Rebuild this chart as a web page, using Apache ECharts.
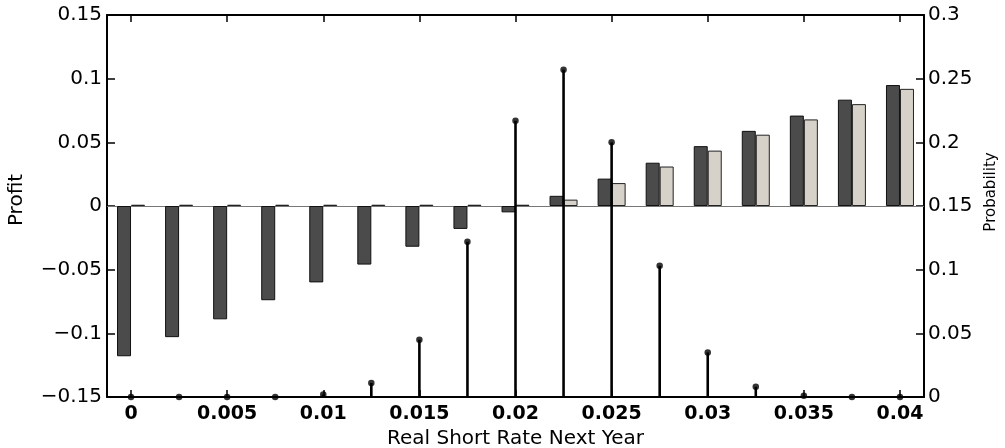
<!DOCTYPE html>
<html>
<head>
<meta charset="utf-8">
<script src="https://cdn.jsdelivr.net/npm/echarts@6/dist/echarts.min.js"></script>
<style>
html,body{margin:0;padding:0;background:#fff;overflow:hidden;}
#c{width:1005px;height:448px;}
</style>
</head>
<body>
<div id="c"></div>
<script>
// Data
const categories = ['0','0.0025','0.005','0.0075','0.01','0.0125','0.015','0.0175','0.02','0.0225','0.025','0.0275','0.03','0.0325','0.035','0.0375','0.04'];
const profitDark  = [-0.118,-0.103,-0.089,-0.074,-0.060,-0.046,-0.032,-0.018,-0.005,0.008,0.0215,0.034,0.047,0.059,0.071,0.0835,0.095];
const profitLight = [0.001,0.001,0.001,0.001,0.001,0.001,0.001,0.001,0.001,0.005,0.018,0.031,0.0435,0.056,0.068,0.080,0.092];
const probability = [0,0,0,0,0.002,0.011,0.045,0.122,0.217,0.257,0.200,0.103,0.035,0.008,0.001,0,0];
const profitTicks = ['\u22120.15','\u22120.1','\u22120.05','0','0.05','0.1','0.15'];
const probTicks = ['0','0.05','0.1','0.15','0.2','0.25','0.3'];

const FONT = 'DejaVu Sans';
const el = document.getElementById('c');
const chart = echarts.init(el);
const baseX = {
  type: 'category',
  data: categories,
  boundaryGap: true,
  axisLine: {show: true, onZero: false, lineStyle: {color: '#000', width: 2}},
  axisTick: {show: true, inside: true, alignWithLabel: true, interval: 1, length: 7, lineStyle: {color: '#000', width: 1.5}},
  splitLine: {show: false}
};
chart.setOption({
  animation: false,
  backgroundColor: '#fff',
  grid: {left: 107, top: 15, width: 817, height: 382, containLabel: false, outerBoundsMode: 'none'},
  xAxis: [
    Object.assign({}, baseX, {
      position: 'bottom',
      name: 'Real Short Rate Next Year',
      nameLocation: 'middle',
      nameGap: 28,
      nameTextStyle: {fontFamily: FONT, fontSize: 20, color: '#000'},
      axisLabel: {interval: 1, margin: 8, fontFamily: FONT, fontWeight: 'bold', fontSize: 19, color: '#000'}
    }),
    Object.assign({}, baseX, {
      position: 'top',
      axisLabel: {show: false}
    })
  ],
  yAxis: [
    {
      type: 'value', min: -0.15, max: 0.15, interval: 0.05,
      position: 'left',
      name: 'Profit', nameLocation: 'middle', nameGap: 80, nameRotate: 90,
      nameTextStyle: {fontFamily: FONT, fontSize: 20, color: '#000', padding: [0, 0, 0, 12]},
      axisLine: {show: true, onZero: false, lineStyle: {color: '#000', width: 2}},
      axisTick: {show: true, inside: true, length: 8, lineStyle: {color: '#000', width: 1.5}},
      splitLine: {show: false},
      axisLabel: {margin: 5, fontFamily: FONT, fontSize: 20, color: '#000',
        formatter: v => profitTicks[Math.round((v + 0.15) / 0.05)]}
    },
    {
      type: 'value', min: 0, max: 0.3, interval: 0.05,
      position: 'right',
      name: 'Probability', nameLocation: 'middle', nameGap: 57, nameRotate: 90,
      nameTextStyle: {fontFamily: FONT, fontSize: 15, color: '#000', padding: [0, 0, 0, 28]},
      axisLine: {show: true, onZero: false, lineStyle: {color: '#000', width: 2}},
      axisTick: {show: true, inside: true, length: 8, lineStyle: {color: '#000', width: 1.5}},
      splitLine: {show: false},
      axisLabel: {margin: 4, fontFamily: FONT, fontSize: 20, color: '#000',
        formatter: v => probTicks[Math.round(v / 0.05)]}
    }
  ],
  series: [
    {
      type: 'bar', name: 'dark', xAxisIndex: 0, yAxisIndex: 0,
      data: profitDark, barWidth: 14, barGap: '0%',
      itemStyle: {color: '#4b4b4b', borderColor: '#111', borderWidth: 1},
      z: 2,
      markLine: {
        silent: true, symbol: ['none','none'], label: {show: false},
        lineStyle: {color: '#777', width: 1.2, type: 'solid'},
        data: [{yAxis: 0}], z: 1
      }
    },
    {
      type: 'bar', name: 'light', xAxisIndex: 0, yAxisIndex: 0,
      data: profitLight, barWidth: 14, barGap: '0%',
      itemStyle: {color: '#d6d2c9', borderColor: '#222', borderWidth: 1},
      z: 2
    },
    {
      type: 'bar', name: 'stem', xAxisIndex: 1, yAxisIndex: 1,
      data: probability, barWidth: 2.6,
      itemStyle: {color: '#000'},
      z: 5
    },
    {
      type: 'scatter', name: 'dot', xAxisIndex: 1, yAxisIndex: 1,
      data: probability, symbol: 'circle', symbolSize: 6.5,
      itemStyle: {color: '#000'},
      z: 6
    }
  ]
});
</script>
</body>
</html>
